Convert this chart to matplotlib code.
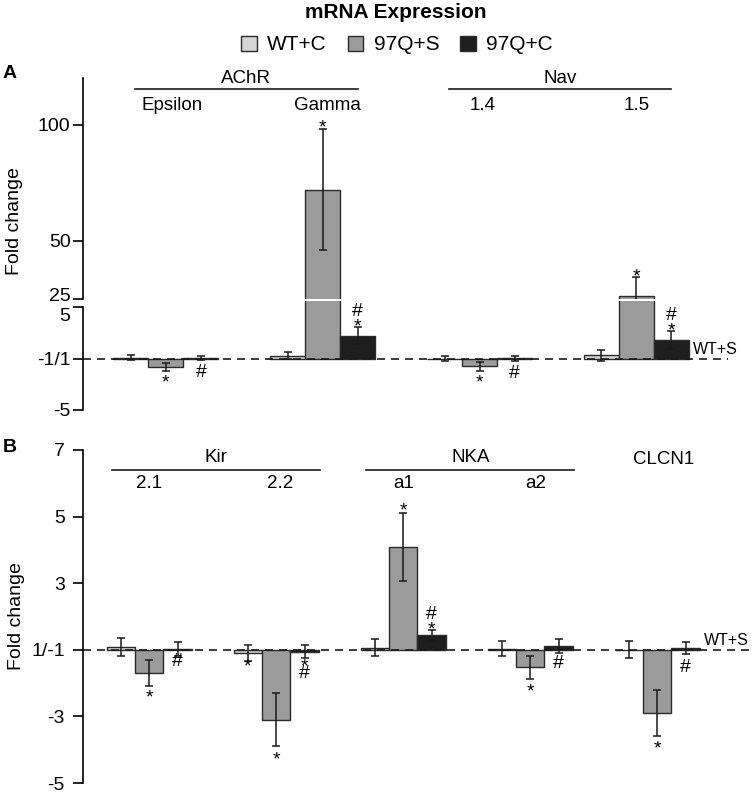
import numpy as np
import matplotlib
matplotlib.use("Agg")
import matplotlib.pyplot as plt
from matplotlib.patches import Patch
from matplotlib.transforms import offset_copy, ScaledTranslation

plt.rcParams['font.family'] = ['Liberation Sans', 'DejaVu Sans']

series = ["WT+C", "97Q+S", "97Q+C"]
colors = ["#d4d4d4", "#9b9b9b", "#1e1e1e"]

# Panel A: AChR / Nav (values in plotted fold-change units, baseline = 0)
genes_a = ["Epsilon", "Gamma", "1.4", "1.5"]
families_a = [("AChR", 0, 1), ("Nav", 2, 3)]
wtc_a = [0.1, 0.3, 0.0, 0.32]
wtc_a_err = [0.24, 0.35, 0.25, 0.55]
q97s_a = [-0.8, 72.0, -0.75, 26.4]
q97s_a_err = [0.42, 26.0, 0.42, 8.2]
q97c_a = [0.08, 2.26, 0.05, 1.84]
q97c_a_err = [0.18, 0.87, 0.25, 0.9]
# (gene, series, symbol, height)
marks_a = [(0, 1, "*", -1.85), (0, 2, "#", -1.17),
           (1, 1, "*", 101.0), (1, 2, "*", 3.62), (1, 2, "#", 4.76),
           (2, 1, "*", -1.85), (2, 2, "#", -1.2),
           (3, 1, "*", 36.7), (3, 2, "*", 3.2), (3, 2, "#", 4.44)]

# Panel B: Kir / NKA / CLCN1
genes_b = ["2.1", "2.2", "a1", "a2", ""]
families_b = [("Kir", 0, 1), ("NKA", 2, 3)]
wtc_b = [0.08, -0.1, 0.06, 0.03, 0.0]
wtc_b_err = [0.26, 0.24, 0.26, 0.23, 0.25]
q97s_b = [-0.7, -2.1, 3.08, -0.53, -1.9]
q97s_b_err = [0.39, 0.8, 1.02, 0.34, 0.7]
q97c_b = [0.02, -0.06, 0.43, 0.12, 0.05]
q97c_b_err = [0.22, 0.2, 0.17, 0.21, 0.17]
marks_b = [(0, 1, "*", -1.29), (0, 2, "#", -0.3),
           (1, 0, "*", -0.35), (1, 1, "*", -3.15), (1, 2, "*", -0.36), (1, 2, "#", -0.66),
           (2, 1, "*", 4.32), (2, 2, "*", 0.75), (2, 2, "#", 1.12),
           (3, 1, "*", -1.1), (3, 2, "#", -0.35),
           (4, 1, "*", -2.8), (4, 2, "#", -0.48)]

ticks_a_top = [25, 50, 100]
ticks_a_bot = [-5, 0, 5]
ticklabels_a_bot = ["-5", "-1/1", "5"]
ticks_b = [6, 4, 2, 0, -2, -4]
ticklabels_b = ["7", "5", "3", "1/-1", "-3", "-5"]

GAP = 4.48
W, H = 755, 792
# vertical shift (px) so the visible glyph is centred on its height
sym_shift = {"*": -5.5, "#": -2.0}


def px_axes(fig, left, top, right, bottom):
    return fig.add_axes([left / W, 1 - bottom / H, (right - left) / W, (bottom - top) / H])


def style_axis(ax, ticks, labels, pad):
    for s in ["top", "right", "bottom"]:
        ax.spines[s].set_visible(False)
    ax.spines["left"].set_linewidth(1.2)
    ax.set_xticks([])
    ax.set_yticks(ticks)
    ax.set_yticklabels(labels)
    ax.tick_params(axis="y", length=7, width=1.2, labelsize=14, pad=pad)
    ax.patch.set_alpha(0)


def nudge_label(ax, idx, dy_px):
    lab = ax.yaxis.get_major_ticks()[idx].label1
    lab.set_transform(lab.get_transform() + ScaledTranslation(0, dy_px / 100, ax.figure.dpi_scale_trans))


def draw_bars(ax, vals, errs):
    centers = np.arange(len(vals[0])) * GAP
    for i in range(3):
        x = centers + (i - 1)
        ax.bar(x, vals[i], width=1.0, color=colors[i], edgecolor="#2a2a2a",
               linewidth=1.0, zorder=2)
        ax.errorbar(x, vals[i], yerr=errs[i], fmt="none", ecolor="#1a1a1a",
                    elinewidth=1.1, capsize=3.2, capthick=1.1, zorder=3)
    return centers


def put_mark(ax, x, y, sym):
    tr = offset_copy(ax.transData, fig=ax.figure, y=sym_shift[sym], units="dots")
    ax.text(x, y, sym, transform=tr, ha="center", va="center", fontsize=14, zorder=5)


fig = plt.figure(figsize=(W / 100, H / 100), dpi=100)

# ---- Panel A (broken axis)
ax_t = px_axes(fig, 83, 78, 755, 299)
ax_b = px_axes(fig, 83, 301.5, 755, 410)
vals_a = [wtc_a, q97s_a, q97c_a]
errs_a = [wtc_a_err, q97s_a_err, q97c_a_err]
for ax in (ax_t, ax_b):
    cen_a = draw_bars(ax, vals_a, errs_a)
    ax.set_xlim(-2.37, 16.83)
ax_t.set_ylim(25, 120.1)
ax_b.set_ylim(-5, 5.58)
style_axis(ax_t, ticks_a_top, [str(t) for t in ticks_a_top], 2)
style_axis(ax_b, ticks_a_bot, ticklabels_a_bot, 2)
ax_b.spines["left"].set_bounds(-5, 5)
nudge_label(ax_t, 0, 5)    # "25" sits above its tick
nudge_label(ax_b, 2, -7)   # "5" sits below its tick
ax_b.plot([-2.37, 16.06], [0, 0], color="#1a1a1a", lw=1.2, dashes=(4.8, 3.6), zorder=4)
ax_b.text(15.06, 0.15, "WT+S", fontsize=11.5, va="bottom", ha="left")

for g, s, sym, y in marks_a:
    put_mark(ax_t if y > 20 else ax_b, cen_a[g] + s - 1, y, sym)

shift_a = [0.18, 0.13, 0.1, 0.0]
for g, name in enumerate(genes_a):
    ax_t.text(cen_a[g] + shift_a[g], 108.1, name, ha="center", va="center", fontsize=13.5, clip_on=False)
for name, g0, g1 in families_a:
    x0, x1 = cen_a[g0] - 0.88, cen_a[g1] + 1.0
    ax_t.plot([x0, x1], [115.5, 115.5], color="#1a1a1a", lw=1.2, clip_on=False)
    ax_t.text((x0 + x1) / 2, 119.7, name, ha="center", va="center", fontsize=13.5, clip_on=False)

# ---- Panel B
ax_c = px_axes(fig, 83, 450, 755, 783)
vals_b = [wtc_b, q97s_b, q97c_b]
errs_b = [wtc_b_err, q97s_b_err, q97c_b_err]
cen_b = draw_bars(ax_c, vals_b, errs_b)
ax_c.set_xlim(-2.34, 21.37)
ax_c.set_ylim(-4, 6)
style_axis(ax_c, ticks_b, ticklabels_b, 6)
ax_c.plot([-2.34, 21.27], [0, 0], color="#1a1a1a", lw=1.2, dashes=(4.8, 3.6), zorder=4)
ax_c.text(19.57, 0.05, "WT+S", fontsize=11.5, va="bottom", ha="left")

for g, s, sym, y in marks_b:
    put_mark(ax_c, cen_b[g] + s - 1, y, sym)

shift_b = [0.0, 0.15, 0.0, 0.2, 0.0]
for g, name in enumerate(genes_b):
    ax_c.text(cen_b[g] + shift_b[g], 5.0, name, ha="center", va="center", fontsize=13.5, clip_on=False)
for name, g0, g1 in families_b:
    x0, x1 = cen_b[g0] - 1.3, cen_b[g1] + 1.55
    ax_c.plot([x0, x1], [5.4, 5.4], color="#1a1a1a", lw=1.2, clip_on=False)
    ax_c.text((x0 + x1) / 2, 5.77, name, ha="center", va="center", fontsize=13.5, clip_on=False)
ax_c.text(cen_b[4] + 0.24, 5.72, "CLCN1", ha="center", va="center", fontsize=13.5, clip_on=False)

# ---- labels, title, legend
fig.text(15 / W, 1 - 221 / H, "Fold change", rotation=90, ha="center", va="center", fontsize=14)
fig.text(17 / W, 1 - 616 / H, "Fold change", rotation=90, ha="center", va="center", fontsize=14)
fig.text(3 / W, 1 - 73 / H, "A", ha="left", va="center", fontsize=14, fontweight="bold")
fig.text(3 / W, 1 - 448 / H, "B", ha="left", va="center", fontsize=14, fontweight="bold")
fig.text(396 / W, 1 - 13 / H, "mRNA Expression", ha="center", va="center", fontsize=15, fontweight="bold")

handles = [Patch(facecolor=c, edgecolor="#2a2a2a", linewidth=1.0) for c in colors]
fig.legend(handles, series, loc="center", bbox_to_anchor=(397 / W, 1 - 45 / H), ncol=3,
           frameon=False, fontsize=15, handlelength=0.75, handleheight=0.75,
           handletextpad=0.5, columnspacing=1.0)

fig.savefig("out.png", dpi=100)
